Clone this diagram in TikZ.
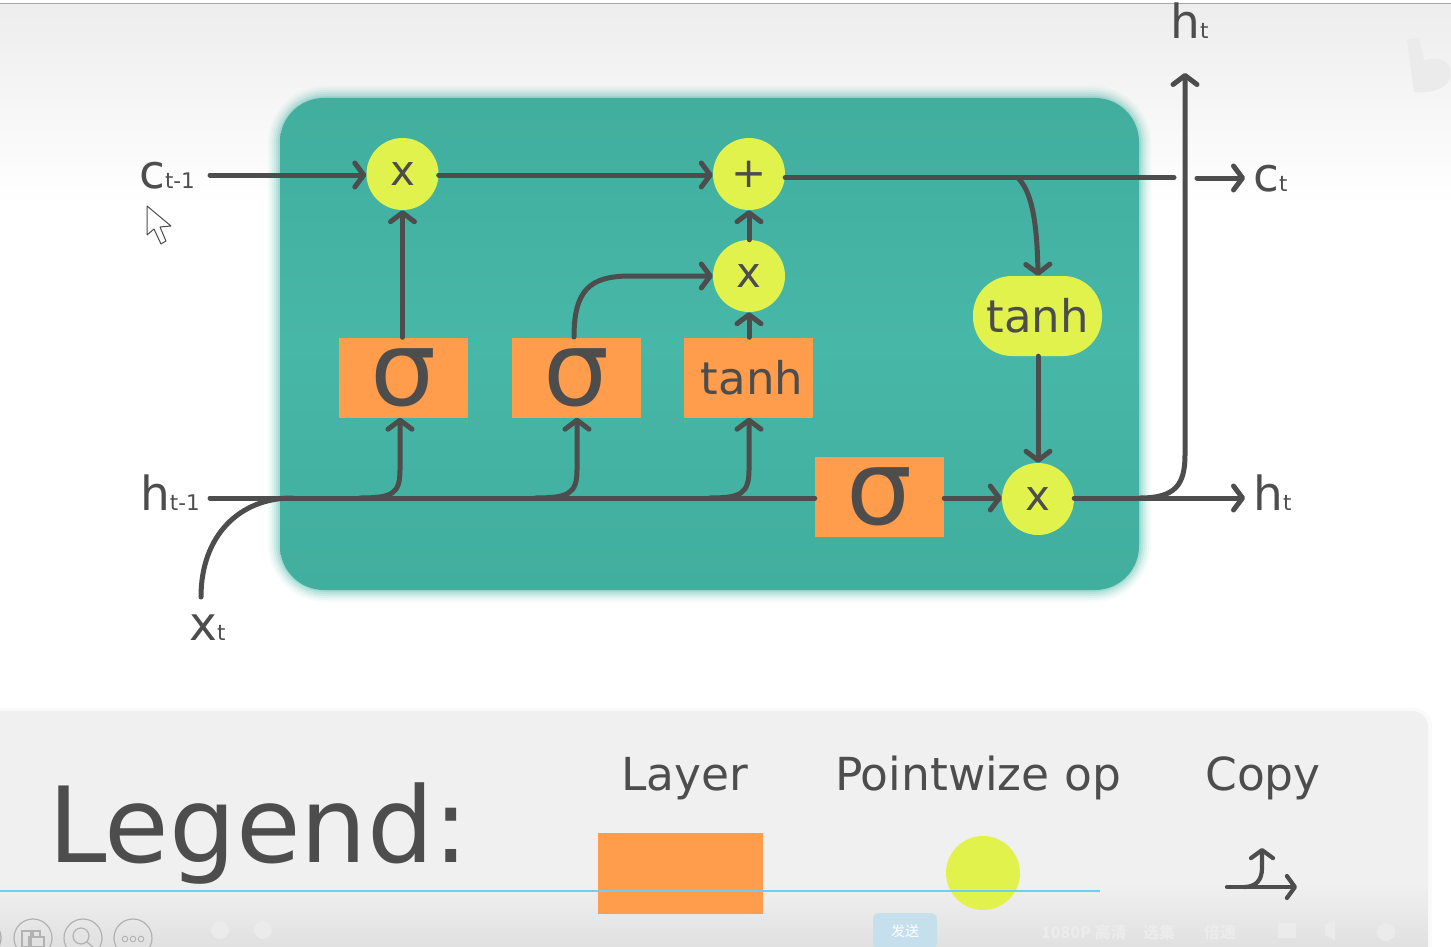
\documentclass[tikz,border=0pt]{standalone}
\usepackage{fontspec}
\setmainfont{DejaVu Sans}
\newfontfamily\cjkfont{Noto Sans CJK SC}
\usetikzlibrary{arrows.meta,calc}
\definecolor{ink}{HTML}{4D4D4D}
\definecolor{tealm}{HTML}{47B7A7}
\definecolor{teald}{HTML}{41AE9E}
\definecolor{orangeL}{HTML}{FF9D4D}
\definecolor{yellowL}{HTML}{E2F24D}
\definecolor{progress}{HTML}{70CFEE}
\definecolor{sendbtn}{HTML}{C5E0EC}
\newcommand{\fs}[1]{\fontsize{#1}{#1}\selectfont}
\tikzset{
  wire/.style={draw=ink,line width=5pt,line cap=round},
  arrowwire/.style={wire,-{Straight Barb[length=9pt,width=24pt,line width=5pt,round]}},
  smallwire/.style={draw=ink,line width=4.2pt,line cap=round,-{Straight Barb[length=8pt,width=22pt,line width=4.2pt,round]}},
  layerbox/.style={fill=orangeL,minimum width=129pt,minimum height=80pt,inner sep=0pt,text=ink},
  opcircle/.style={circle,fill=yellowL,minimum size=72pt,inner sep=0pt,text=ink,font=\fs{42}},
  sigmatext/.style={font=\fs{104}},
  tanhtext/.style={font=\fs{45}},
  biglabel/.style={anchor=base west,inner sep=0pt,text=ink,font=\fs{47}},
  leglabel/.style={anchor=base,inner sep=0pt,text=ink,font=\fs{45.5}},
  tool/.style={draw=black!30,line width=1.2pt},
  faint/.style={inner sep=0pt,text=black!7.5,font=\cjkfont\bfseries\fs{16}},
  faintmark/.style={fill=black!8},
}
\begin{document}
\begin{tikzpicture}[x=1pt,y=-1pt]
\useasboundingbox (0,0) rectangle (1451,947);
\clip (0,0) rectangle (1451,947);
\fill[white] (0,0) rectangle (1451,947);
% top band
\shade[top color=black!7,bottom color=white,shading angle=0] (0,4) rectangle (1451,205);
\fill[black!35] (0,3) rectangle (1451,4.5);
% faint corner mark
\fill[black!8] (1407,40) -- (1419,38) -- (1424,60) .. controls (1438,56) and (1451,60) .. (1451,74) .. controls (1451,88) and (1430,94) .. (1414,92) -- cycle;
% legend panel
\fill[black!2,rounded corners=18pt] (-22,708) rectangle (1432,970);
\fill[black!6,rounded corners=16pt] (-20,711) rectangle (1428,970);
\begin{scope}
\clip[rounded corners=16pt] (-20,711) rectangle (1428,970);
\shade[top color=black!6,bottom color=black!12] (-20,885) rectangle (1428,947);
\end{scope}
% teal block glow
\foreach \g/\o in {12/.05,10/.06,8/.08,6/.10,4/.14,2/.2}{
  \fill[tealm,opacity=\o,rounded corners=46pt+\g pt] (280-\g,98-\g) rectangle (1139+\g,590+\g);
}
\node[inner sep=0pt,minimum width=859pt,minimum height=492pt,rounded corners=44pt,
  top color=teald,bottom color=teald,middle color=tealm] (cell) at (709.5,344) {};
% nodes
\node[opcircle] (mulA) at (402.5,174) {x};
\node[opcircle] (plus) at (749,174) {+};
\node[opcircle] (mulB) at (749,276) {x};
\node[opcircle] (mulC) at (1038,499) {x};
\node[layerbox,sigmatext] (sigA) at (403.5,377.5) {σ};
\node[layerbox,sigmatext] (sigB) at (576,377.5) {σ};
\node[layerbox,tanhtext] (tanA) at (748.5,377.5) {\hspace{7pt}tanh};
\node[layerbox,sigmatext] (sigC) at (879.5,496.5) {σ};
\node[fill=yellowL,rounded corners=39pt,minimum width=129pt,minimum height=80pt,inner sep=0pt,text=ink,tanhtext] (tanB) at (1037.5,316) {tanh\hspace{3pt}};
% labels
\node[biglabel] (lcin) at (139,188) {c{\fs{21.5}t-1}};
\node[biglabel] (lhin) at (140,510) {h{\fs{21.5}t-1}};
\node[biglabel] (lx) at (189,640) {x{\fs{21.5}t}};
\node[biglabel] (lht) at (1170,39) {h{\fs{21.5}t}};
\node[biglabel] (lct) at (1253,191) {c{\fs{21.5}t}};
\node[biglabel] (lho) at (1253,510) {h{\fs{21.5}t}};
% free ends
\coordinate (cinS) at (210,175);
\coordinate (hinS) at (210,498);
\coordinate (xS) at (201,597);
\coordinate (hJoin) at (292,498);
\coordinate (cOutE) at (1174,177.5);
\coordinate (cArrS) at (1197,178);
\coordinate (cArrE) at (1245,178);
\coordinate (hOutE) at (1245,498);
\coordinate (hUpE) at (1185,73);
% connectors
\draw[arrowwire] (cinS) -- (mulA.west |- cinS);
\draw[arrowwire] (mulA.east |- 0,175) -- (plus.west |- 0,175);
\draw[arrowwire] (sigA.north -| mulA) -- (mulA.south);
\draw[arrowwire] (mulB.north) -- (plus.south);
\draw[arrowwire] (tanA.north -| mulB) -- (mulB.south);
\draw[arrowwire] (574,337) .. controls (574,290) and (590,276) .. (630,276) -- (mulB.west);
\draw[wire] (plus.east |- cOutE) -- (cOutE);
\draw[arrowwire] (cArrS) -- (cArrE);
\draw[arrowwire] (1018,178) .. controls (1030,190) and (1037,215) .. (tanB.north -| mulC);
\draw[arrowwire] (tanB.south -| mulC) -- (mulC.north);
\draw[wire] (xS) .. controls (201,535) and (240,498) .. (hJoin);
\draw[wire] (hinS) -- (sigC.west |- hinS);
\draw[arrowwire] (360,498) .. controls (392,498) and (400,494) .. (400,470) -- (sigA.south -| 400,0);
\draw[arrowwire] (535,498) .. controls (568,498) and (577,494) .. (577,470) -- (sigB.south -| 577,0);
\draw[arrowwire] (710,498) .. controls (740,498) and (749,494) .. (749,470) -- (tanA.south -| 749,0);
\draw[arrowwire] (sigC.east |- hinS) -- (mulC.west |- hinS);
\draw[arrowwire] (mulC.east |- hOutE) -- (hOutE);
\draw[arrowwire] (1140,498) .. controls (1175,498) and (1185,485) .. (1185,455) -- (hUpE);
% cursor
\draw[fill=white,draw=black!70,line width=1pt,line join=round] (147,206) -- (147,235) -- (154,229) -- (161,244) -- (166,241) -- (160,227) -- (171,226) -- cycle;
% legend
\node[anchor=base west,inner sep=0pt,text=ink,font=\fs{105}] (legT) at (48,862) {Legend:};
\node[leglabel] (lLayer) at (684.5,790) {Layer};
\node[leglabel] (lPoint) at (978,790) {Pointwize op};
\node[leglabel] (lCopy) at (1263,790) {Copy};
\node[fill=orangeL,minimum width=165pt,minimum height=81pt,inner sep=0pt] (legBox) at (680,873) {};
\node[circle,fill=yellowL,minimum size=74pt,inner sep=0pt] (legCirc) at (983,873) {};
\coordinate (cpS) at (1227,887);
\coordinate (cpE) at (1297,887);
\coordinate (cpB) at (1244,887);
\coordinate (cpU) at (1262,848);
\draw[smallwire] (cpS) -- (cpE);
\draw[smallwire] (cpB) .. controls (1256,887) and (1262,880) .. (1262,868) -- (cpU);
% progress line
\fill[progress] (0,889.5) rectangle (1100,891.5);
% player bar
\node[fill=sendbtn,inner sep=0pt,minimum width=64pt,minimum height=36pt,rounded corners=6pt,text=white,font=\cjkfont\fs{14}] (send) at (905,931) {发送};
\node[circle,tool,minimum size=38pt,inner sep=0pt] (btnA) at (33,938) {};
\node[circle,tool,minimum size=38pt,inner sep=0pt] (btnB) at (83,938) {};
\node[circle,tool,minimum size=38pt,inner sep=0pt] (btnC) at (133,938) {};
\draw[tool] (22,931) rectangle (31,947) (33,931) rectangle (40,937) (29,937) rectangle (44,947);
\draw[tool] (81,936) circle (8pt) (87,942) -- (93,947);
\foreach \d in {-8,0,8} \draw[tool,line width=.9pt] (133+\d,939) circle (2.8pt);
\draw[black!32,line width=1.2pt] (-18,938) circle (19pt);
% faint player controls
\fill[faintmark] (220,930) circle (9pt) (263,930) circle (9pt);
\fill[faintmark] (1278,923) rectangle (1296,938);
\fill[faintmark] (1325,925) -- (1335,920) -- (1335,940) -- (1325,935) -- cycle;
\fill[faintmark] (1386,932) circle (9pt);
\node[faint,anchor=west] (q1) at (1041,932) {1080P 高清};
\node[faint,anchor=west] (q2) at (1143,932) {选集};
\node[faint,anchor=west] (q3) at (1204,932) {倍速};
\end{tikzpicture}
\end{document}
